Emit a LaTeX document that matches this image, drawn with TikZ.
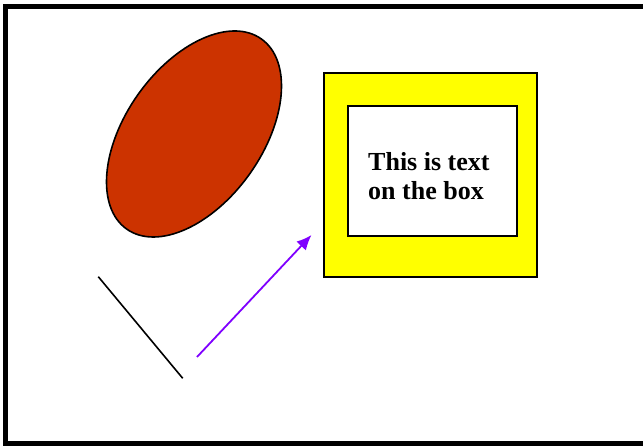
\documentclass[tikz,border=0pt]{standalone}
\usepackage{fontspec}
\setmainfont{Liberation Serif}
\usetikzlibrary{positioning,arrows.meta,shapes.geometric}
\definecolor{brick}{HTML}{CC3300}
\definecolor{lemon}{HTML}{FFFF00}
\definecolor{violet}{HTML}{7F00FF}

\begin{document}
\begin{tikzpicture}[x=1pt,y=1pt]
\useasboundingbox (0,0) rectangle (643,446);
\clip (0,0) rectangle (643,446);
\draw[line width=5.5pt] (5.5,2.5) rectangle (680,439.5);
\node[draw,line width=1.6pt,ellipse,fill=brick,inner sep=0pt,minimum width=233pt,minimum height=137pt,rotate=54.7] (blob) at (194,312){};
\node[draw,line width=1.2pt,fill=lemon,minimum width=213pt,minimum height=204pt] (frame) at (430.5,271){};
\node[draw,line width=1.3pt,fill=white,minimum width=169pt,minimum height=130pt] (card) at (432.5,275){};
\node[font=\fontsize{26}{29}\selectfont\bfseries,align=left,inner sep=0pt,anchor=base west] (note) at (368,246){This is text\\on the box};
\coordinate (s1) at (98.3,169.3);\coordinate (s2) at (182.7,67.7);
\coordinate (a1) at (197,89);\coordinate (a2) at (311.5,211);
\draw[line width=1.6pt] (s1)--(s2);
\draw[-{Latex[length=15pt,width=13pt]},violet,line width=1.8pt] (a1)--(a2);
\end{tikzpicture}
\end{document}
